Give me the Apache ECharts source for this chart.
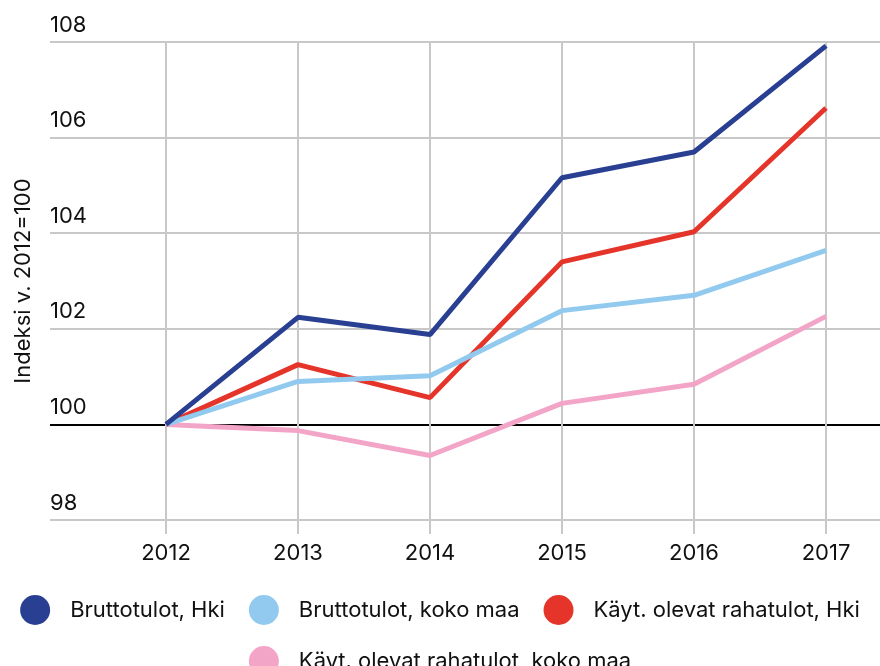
<!DOCTYPE html>
<html><head><meta charset="utf-8">
<script src="https://cdn.jsdelivr.net/npm/echarts@6/dist/echarts.min.js"></script>
<style>html,body{margin:0;padding:0;background:#fff}#c{width:880px;height:666px}</style>
</head><body><div id="c"></div>
<script>
var years = ['2012','2013','2014','2015','2016','2017'];
var bruttoHki = [100, 102.24, 101.88, 105.16, 105.7, 107.92];
var bruttoKoko = [100, 100.9, 101.02, 102.38, 102.7, 103.64];
var kaytHki = [100, 101.25, 100.56, 103.4, 104.03, 106.62];
var kaytKoko = [100, 99.87, 99.35, 100.44, 100.84, 102.26];
var names = ['Bruttotulot, Hki','Bruttotulot, koko maa','Käyt. olevat rahatulot, Hki','Käyt. olevat rahatulot, koko maa'];
var colors = ['#293f92','#91caee','#e5352a','#f3a5c8'];
var FONT = 'Inter';
var chart = echarts.init(document.getElementById('c'));
function ser(i, data){
  return {name:names[i], type:'line', xAxisIndex:1, yAxisIndex:1, data:data, symbol:'none',
    lineStyle:{width:5, color:colors[i]}, itemStyle:{color:colors[i]}, z:3+(3-i)};
}
chart.setOption({
  animation:false,
  textStyle:{fontFamily:FONT},
  grid:[
    {left:50, right:0, top:42, bottom:146},
    {left:166, right:54, top:42, bottom:146}
  ],
  xAxis:[
    {gridIndex:0, type:'value', min:0, max:1, show:false},
    {gridIndex:1, type:'category', data:years, boundaryGap:false,
     axisLine:{show:false},
     axisTick:{show:true, length:14, lineStyle:{color:'#c8c8c8', width:2}},
     splitLine:{show:true, lineStyle:{color:'#c8c8c8', width:2}},
     axisLabel:{color:'#111', fontSize:22, margin:22, fontFamily:FONT}}
  ],
  yAxis:[
    {gridIndex:0, type:'value', min:98, max:108, interval:2,
     axisLine:{show:false}, axisTick:{show:false},
     splitLine:{show:true, lineStyle:{color:['#c8c8c8','#000','#c8c8c8','#c8c8c8','#c8c8c8','#c8c8c8'], width:2}},
     axisLabel:{align:'left', margin:0, verticalAlign:'bottom', padding:[0,0,6,0], color:'#111', fontSize:22, fontFamily:FONT},
     name:'Indeksi v. 2012=100', nameLocation:'middle', nameGap:16, nameRotate:90,
     nameTextStyle:{color:'#111', fontSize:22, fontFamily:FONT}},
    {gridIndex:1, type:'value', min:98, max:108, interval:2, show:false}
  ],
  legend:[
    {data:names.slice(0,3), left:'center', top:590, icon:'circle', itemWidth:30, itemHeight:30, itemGap:24,
     textStyle:{fontSize:22, color:'#111', padding:[0,0,0,15], fontFamily:FONT}},
    {data:names.slice(3), left:'center', top:641, icon:'circle', itemWidth:30, itemHeight:30,
     textStyle:{fontSize:22, color:'#111', padding:[0,0,0,15], fontFamily:FONT}}
  ],
  series:[ser(0,bruttoHki), ser(1,bruttoKoko), ser(2,kaytHki), ser(3,kaytKoko)]
});
</script></body></html>
